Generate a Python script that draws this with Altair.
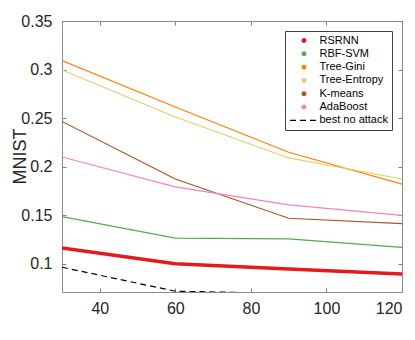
import altair as alt
import pandas as pd

FONT = "Liberation Sans"

x_vals = [30, 60, 90, 120]
series_names = ["RSRNN", "RBF-SVM", "Tree-Gini", "Tree-Entropy", "K-means", "AdaBoost", "best no attack"]
rsrnn = [0.1163, 0.1000, 0.0947, 0.0896]
rbf_svm = [0.1486, 0.1264, 0.1257, 0.1170]
tree_gini = [0.3092, 0.2615, 0.2149, 0.1820]
tree_entropy = [0.2996, 0.2511, 0.2090, 0.1873]
kmeans = [0.2466, 0.1873, 0.1469, 0.1414]
adaboost = [0.2100, 0.1793, 0.1607, 0.1498]
best_no_attack = [0.0965, 0.0718, 0.0695, 0.0680]
all_values = [rsrnn, rbf_svm, tree_gini, tree_entropy, kmeans, adaboost, best_no_attack]

colors = ["#e41a1c", "#4daf4a", "#ff7f00", "#dfcf6a", "#a65628", "#f781bf", "#000000"]
shapes = ["circle"] * 6 + ["M-7.5,0H7.5"]
dashes = [[1, 0]] * 6 + [[6, 4]]

x_ticks = [40, 60, 80, 100, 120]
y_ticks = [0.1, 0.15, 0.2, 0.25, 0.3, 0.35]

rows = []
for name, vals in zip(series_names, all_values):
    for xv, yv in zip(x_vals, vals):
        rows.append({"series": name, "x": xv, "y": yv})
df = pd.DataFrame(rows)

xs = alt.Scale(domain=[30, 120], nice=False, zero=False)
ys = alt.Scale(domain=[0.071, 0.35], nice=False, zero=False)

tick_common = dict(domain=False, grid=False, tickSize=4, tickColor="#808080",
                   tickWidth=1, offset=-4)

x_axis = alt.Axis(orient="bottom", values=x_ticks, title=None, labelPadding=8,
                  labelFont=FONT, labelFontSize=16, labelColor="#262626", **tick_common)
y_axis = alt.Axis(orient="left", values=y_ticks, format=".2~f", title="MNIST",
                  labelPadding=10, labelFont=FONT, labelFontSize=16, labelColor="#262626",
                  titleFont=FONT, titleFontSize=18, titleFontWeight="normal",
                  titleColor="#262626", titleX=-41, titleY=135, titleAngle=270,
                  titleAlign="center", titleBaseline="alphabetic", **tick_common)
x_axis_top = alt.Axis(orient="top", values=x_ticks, title=None, labels=False, **tick_common)
y_axis_right = alt.Axis(orient="right", values=y_ticks, title=None, labels=False, **tick_common)

base = alt.Chart(df)

# line colours use a scale over the six solid series only (keeps it apart from the legend)
lines = base.transform_filter(alt.datum.series != "best no attack").mark_line(clip=True).encode(
    x=alt.X("x:Q", scale=xs, axis=x_axis),
    y=alt.Y("y:Q", scale=ys, axis=y_axis),
    color=alt.Color("series:N", scale=alt.Scale(domain=series_names[:6], range=colors[:6]), legend=None),
    strokeWidth=alt.condition(alt.datum.series == "RSRNN", alt.value(3.5), alt.value(1.2)),
)

dashed = base.transform_filter(alt.datum.series == "best no attack").mark_line(
    clip=True, color="black", strokeDash=[6, 4], strokeWidth=1.2
).encode(
    x=alt.X("x:Q", scale=xs, axis=None),
    y=alt.Y("y:Q", scale=ys, axis=None),
)

leg = alt.Legend(title=None, labelExpr="datum.label + '     '")
legend_layer = base.transform_filter("false").mark_point(filled=True, opacity=1, size=14).encode(
    x=alt.X("x:Q", scale=xs, axis=x_axis_top),
    y=alt.Y("y:Q", scale=ys, axis=y_axis_right),
    fill=alt.Fill("series:N", scale=alt.Scale(domain=series_names, range=colors), legend=leg),
    stroke=alt.Stroke("series:N", scale=alt.Scale(domain=series_names, range=colors), legend=leg),
    shape=alt.Shape("series:N", scale=alt.Scale(domain=series_names, range=shapes), legend=leg),
    strokeDash=alt.StrokeDash("series:N", scale=alt.Scale(domain=series_names, range=dashes), legend=leg),
)

chart = alt.layer(lines, dashed, legend_layer).resolve_axis(
    x="independent", y="independent"
).properties(
    width=340, height=271,
    padding={"left": 54, "top": 13, "right": 5, "bottom": 30},
    autosize=alt.AutoSizeParams(type="none"),
).configure_view(
    stroke="#8c8c8c", strokeWidth=1
).configure_legend(
    orient="top-right", offset=10, padding=4, strokeColor="#404040", fillColor="white",
    labelFont=FONT, labelFontSize=11, labelColor="black", rowPadding=1.3,
    symbolSize=14, symbolStrokeWidth=1.2, symbolOffset=9.5, labelOffset=10, cornerRadius=0
)

chart.save("out.html", embed_options={"renderer": "svg", "actions": False})
